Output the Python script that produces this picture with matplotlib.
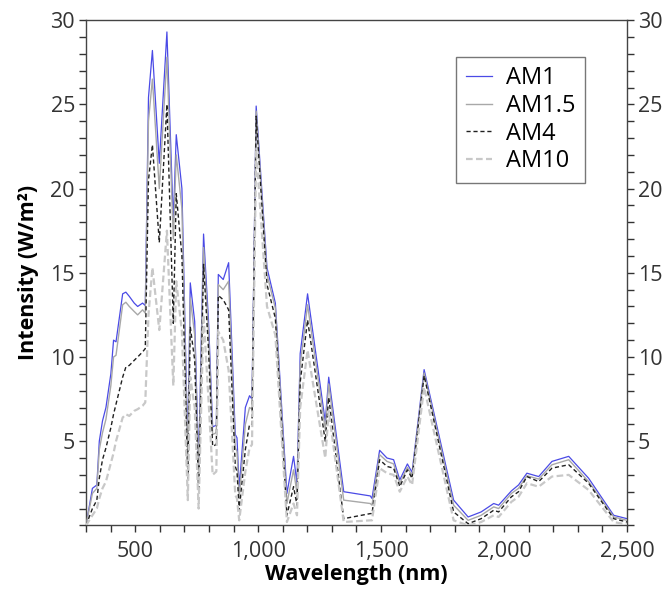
import matplotlib
matplotlib.use("Agg")
import matplotlib.pyplot as plt
from matplotlib.ticker import FuncFormatter, MultipleLocator, FixedLocator

wavelength = [300, 326, 344, 354, 367, 381, 401, 412, 422, 449, 462, 476, 496, 510, 530, 541,
              554, 570, 598, 629, 655, 667, 690, 714, 724, 742, 758, 778, 798, 815, 830, 838,
              858, 880, 907, 914, 923, 948, 965, 975, 992, 1036, 1070, 1117, 1144, 1158, 1171,
              1201, 1273, 1287, 1348, 1456, 1463, 1494, 1524, 1551, 1576, 1607, 1626, 1675,
              1795, 1854, 1907, 1958, 1978, 2030, 2059, 2093, 2141, 2195, 2263, 2344, 2446, 2500]

am1 = [0, 2.2, 2.4, 5.0, 6.2, 7.0, 9.0, 11.0, 10.9, 13.75, 13.85, 13.6, 13.2, 13.0, 13.2, 13.05,
       25.4, 28.2, 21.5, 29.3, 18.0, 23.2, 20.0, 4.5, 14.4, 12.1, 3.6, 17.3, 12.2, 5.85, 5.95, 14.9,
       14.6, 15.6, 5.4, 5.2, 2.2, 7.0, 7.7, 7.5, 24.9, 15.3, 13.2, 1.9, 4.1, 2.5, 10.2,
       13.75, 6.15, 8.8, 2.0, 1.75, 1.6, 4.46, 4.0, 3.9, 2.7, 3.65, 3.15, 9.25,
       1.5, 0.5, 0.8, 1.3, 1.2, 2.05, 2.4, 3.1, 2.9, 3.8, 4.1, 2.8, 0.6, 0.4]

am15 = [0, 1.9, 2.2, 4.5, 5.5, 6.3, 8.3, 10.0, 10.1, 13.1, 13.25, 13.0, 12.7, 12.5, 12.8, 12.6,
        24.0, 26.5, 20.0, 27.8, 17.0, 22.0, 18.8, 3.8, 13.5, 11.3, 3.0, 16.5, 11.5, 5.4, 5.5, 14.3,
        14.0, 14.5, 4.6, 4.4, 1.6, 6.0, 7.0, 6.9, 24.6, 14.9, 12.9, 1.3, 3.3, 1.9, 9.5,
        13.1, 5.7, 8.4, 1.5, 1.3, 1.2, 4.2, 3.8, 3.65, 2.5, 3.45, 2.95, 9.05,
        1.2, 0.3, 0.6, 1.1, 1.0, 1.9, 2.2, 2.95, 2.75, 3.6, 3.9, 2.6, 0.5, 0.3]

am4 = [0, 1.0, 1.5, 2.8, 3.9, 4.6, 5.8, 6.6, 7.2, 8.8, 9.4, 9.5, 9.8, 10.0, 10.3, 10.5,
       20.5, 22.6, 16.8, 25.0, 12.0, 19.7, 16.0, 2.8, 11.8, 9.8, 2.0, 15.5, 10.5, 4.7, 4.8, 13.65,
       13.4, 12.8, 3.5, 3.2, 0.9, 4.5, 6.0, 6.0, 24.3, 14.3, 12.3, 0.6, 2.3, 1.2, 8.5,
       12.2, 5.0, 7.6, 0.4, 0.7, 0.7, 3.9, 3.5, 3.4, 2.3, 3.3, 2.8, 8.9,
       0.8, 0.1, 0.4, 0.9, 0.8, 1.7, 2.0, 2.9, 2.6, 3.4, 3.6, 2.5, 0.4, 0.2]

am10 = [0, 0.6, 1.0, 1.6, 2.2, 2.6, 3.7, 4.3, 5.0, 6.4, 6.6, 6.5, 6.8, 6.9, 7.1, 7.3,
        12.5, 15.3, 11.6, 17.5, 8.3, 14.5, 11.5, 1.5, 8.8, 7.0, 1.0, 12.5, 7.5, 3.0, 3.2, 11.5,
        11.0, 9.2, 1.8, 1.6, 0.3, 3.2, 4.6, 4.8, 22.3, 13.0, 11.3, 0.2, 1.3, 0.6, 7.0,
        10.4, 4.0, 6.8, 0.2, 0.3, 0.3, 3.4, 3.1, 3.0, 2.0, 2.9, 2.4, 8.2,
        0.3, 0.0, 0.2, 0.6, 0.5, 1.4, 1.7, 2.5, 2.3, 2.9, 3.0, 2.1, 0.2, 0.05]

series_names = ["AM1", "AM1.5", "AM4", "AM10"]
x_major = [500, 1000, 1500, 2000, 2500]
y_major = [5, 10, 15, 20, 25, 30]

plt.rcParams['font.family'] = ['Open Sans', 'DejaVu Sans']

fig = plt.figure(figsize=(6.72, 5.93), dpi=100)
ax = fig.add_axes([0.128, 0.114, 0.805, 0.852])

ax.plot(wavelength, am1, color='#4a4ae6', lw=0.9, label=series_names[0], zorder=2)
ax.plot(wavelength, am15, color='#a8a8a8', lw=1.0, label=series_names[1], zorder=3)
ax.plot(wavelength, am4, color='#202020', lw=1.0, ls=(0, (3, 2)), label=series_names[2], zorder=4)
ax.plot(wavelength, am10, color='#c8c8c8', lw=1.6, ls=(0, (3, 1.5)), label=series_names[3], zorder=5)

ax.set_xlim(300, 2500)
ax.set_ylim(0, 30)

ax.xaxis.set_major_locator(FixedLocator(x_major))
ax.xaxis.set_minor_locator(MultipleLocator(100))
ax.yaxis.set_major_locator(FixedLocator(y_major))
ax.yaxis.set_minor_locator(MultipleLocator(1))
ax.xaxis.set_major_formatter(FuncFormatter(lambda v, p: f"{int(v):,}"))

ax.tick_params(axis='both', which='both', direction='out', length=5, width=1,
               color='#333333', labelsize=15.5, labelcolor='#333333')
ax.tick_params(axis='y', which='both', left=True, right=True, labelleft=True, labelright=True, pad=3)
ax.tick_params(axis='x', which='both', top=False, pad=6)

for s in ax.spines.values():
    s.set_color('#444444')
    s.set_linewidth(1.0)

ax.set_xlabel("Wavelength (nm)", fontsize=15.5, fontweight='bold', labelpad=2)
ax.set_ylabel("Intensity (W/m²)", fontsize=15.5, fontweight='bold', labelpad=8)

leg = ax.legend(loc='upper right', bbox_to_anchor=(0.922, 0.927), borderaxespad=0,
                fontsize=17, handlelength=1.1, handletextpad=0.6, labelspacing=0.15,
                fancybox=False, frameon=True, borderpad=0.4)
leg.get_frame().set_edgecolor('#555555')
leg.get_frame().set_linewidth(1.0)

fig.savefig("out.png", dpi=100)
